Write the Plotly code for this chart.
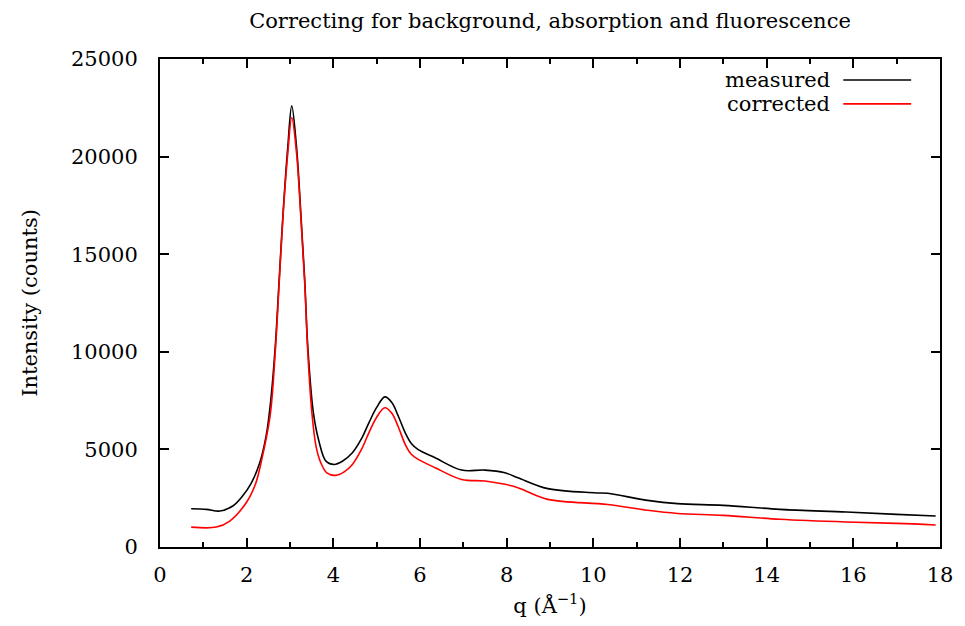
import plotly.graph_objects as go

q_measured = [0.72, 1.07, 1.38, 1.68, 1.9, 2.1, 2.3, 2.45, 2.56, 2.66, 2.75, 2.84, 2.95, 3.04,
              3.15, 3.25, 3.34, 3.41, 3.54, 3.67, 3.83, 4.02, 4.2, 4.44, 4.65, 4.82, 5.0, 5.19,
              5.35, 5.5, 5.66, 5.8, 5.95, 6.35, 6.96, 7.5, 7.96, 8.26, 8.95, 10.02, 10.33,
              11.25, 11.94, 13.0, 14.3, 15.84, 17.0, 17.9]
i_measured = [1960, 1930, 1840, 2100, 2600, 3250, 4300, 5700, 7600, 10280, 13690, 17100, 20510, 22600,
              20510, 17100, 13690, 10280, 6870, 5400, 4400, 4230, 4380, 4830, 5550, 6360, 7150, 7690,
              7400, 6700, 5850, 5300, 5000, 4570, 3940, 3940, 3800, 3550, 2990, 2780, 2750,
              2390, 2220, 2130, 1930, 1790, 1670, 1590]

q_corrected = [0.72, 1.30, 1.61, 1.99, 2.2, 2.33, 2.54, 2.66, 2.75, 2.84, 2.95, 3.04,
               3.15, 3.25, 3.34, 3.41, 3.5, 3.6, 3.71, 3.85, 4.05, 4.25, 4.44, 4.65, 4.82, 5.0,
               5.19, 5.35, 5.5, 5.66, 5.8, 5.95, 6.35, 6.96, 7.5, 7.96, 8.26, 8.95, 10.33,
               11.25, 11.94, 13.0, 14.3, 15.84, 17.0, 17.9]
i_corrected = [1020, 1020, 1330, 2270, 3200, 4300, 6700, 10000, 13500, 17000, 20200, 22000,
               20200, 16900, 13500, 10000, 7000, 5170, 4320, 3800, 3670, 3850, 4230, 5000, 5850, 6650,
               7130, 6850, 6150, 5250, 4750, 4500, 4060, 3460, 3380, 3210, 3040, 2440, 2180,
               1880, 1720, 1620, 1420, 1280, 1210, 1130]

series_names = ["measured", "corrected"]
series_colors = ["#000000", "#ff0000"]

FONT = "DejaVu Serif"
FS = 21

fig = go.Figure()
fig.add_trace(go.Scatter(x=q_measured, y=i_measured, mode="lines", name=series_names[0],
                         line=dict(color=series_colors[0], width=1.6, shape="spline", smoothing=1.0),
                         showlegend=False))
fig.add_trace(go.Scatter(x=q_corrected, y=i_corrected, mode="lines", name=series_names[1],
                         line=dict(color=series_colors[1], width=1.6, shape="spline", smoothing=1.0),
                         showlegend=False))

# custom gnuplot-style legend (text left of sample line)
legend_y = [0.957, 0.908]
for name, color, ly in zip(series_names, series_colors, legend_y):
    fig.add_annotation(x=0.862, y=ly, xref="paper", yref="paper", text=name, showarrow=False,
                       xanchor="right", yanchor="middle", font=dict(family=FONT, size=FS, color="black"))
    fig.add_shape(type="line", xref="paper", yref="paper", x0=0.876, x1=0.963, y0=ly, y1=ly,
                  line=dict(color=color, width=1.6))

fig.update_layout(
    width=965, height=626,
    margin=dict(l=160, r=21, t=59, b=78),
    paper_bgcolor="white", plot_bgcolor="white",
    font=dict(family=FONT, size=FS, color="black"),
    title=dict(text="Correcting for background, absorption and fluorescence", x=0.5, xref="paper",
               y=1 - 21 / 626, yref="container", xanchor="center", yanchor="middle",
               font=dict(family=FONT, size=FS, color="black")),
)
fig.update_xaxes(range=[0, 18], tickmode="linear", tick0=0, dtick=2, ticks="inside", ticklen=9,
                 tickwidth=1.5, tickcolor="black", showline=True, linecolor="black", linewidth=2,
                 mirror="ticks", showgrid=False, zeroline=False,
                 minor=dict(ticks="inside", dtick=1, ticklen=5, tickwidth=1.5, tickcolor="black"),
                 ticklabelstandoff=8, tickfont=dict(family=FONT, size=FS),
                 title=dict(text="q (Å<sup>−1</sup>)", standoff=12, font=dict(family=FONT, size=FS)))
fig.update_yaxes(range=[0, 25000], tickmode="linear", tick0=0, dtick=5000, ticks="inside", ticklen=9,
                 tickwidth=1.5, tickcolor="black", showline=True, linecolor="black", linewidth=2,
                 mirror="ticks", showgrid=False, zeroline=False, ticklabelstandoff=16,
                 tickformat="d", tickfont=dict(family=FONT, size=FS),
                 title=dict(text="Intensity (counts)", standoff=28, font=dict(family=FONT, size=FS)))

fig.write_html("out.html")
